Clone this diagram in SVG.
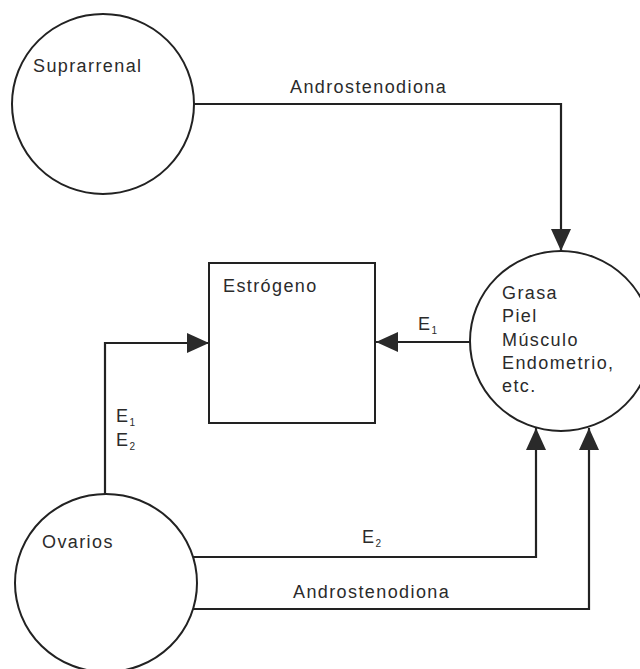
<svg xmlns="http://www.w3.org/2000/svg" width="640" height="669" viewBox="0 0 640 669">
  <style>
    .shape { fill: #fff; stroke: #222; stroke-width: 2; }
    .wire { fill: none; stroke: #222; stroke-width: 2.2; }
    .lbl { font-family: "Liberation Sans", Arial, sans-serif; font-size: 18px; letter-spacing: 1.4px; fill: #2b2b2b; }
    .sub { font-size: 10px; letter-spacing: 0; }
  </style>
  <defs>
    <marker id="arrow" viewBox="0 0 22 20" refX="22" refY="10" markerWidth="22" markerHeight="20" markerUnits="userSpaceOnUse" orient="auto">
      <path d="M0,0 L22,10 L0,20 Z" fill="#2a2a2a"/>
    </marker>
  </defs>
  <rect width="640" height="669" fill="#fff"/>

  <g id="suprarrenal">
    <ellipse class="shape" cx="103" cy="104" rx="91" ry="90"/>
    <text class="lbl" x="33" y="72">Suprarrenal</text>
  </g>

  <g id="estrogeno">
    <rect class="shape" x="209" y="263" width="166" height="160"/>
    <text class="lbl" x="223" y="292">Estrógeno</text>
  </g>

  <g id="tejidos">
    <ellipse class="shape" cx="561" cy="341" rx="91" ry="90"/>
    <text class="lbl" x="502" y="299">Grasa</text>
    <text class="lbl" x="502" y="322">Piel</text>
    <text class="lbl" x="502" y="346">Músculo</text>
    <text class="lbl" x="502" y="369">Endometrio,</text>
    <text class="lbl" x="502" y="392">etc.</text>
  </g>

  <g id="ovarios">
    <ellipse class="shape" cx="106" cy="583" rx="91" ry="89"/>
    <text class="lbl" x="42" y="548">Ovarios</text>
  </g>

  <g id="connectors">
    <path class="wire" d="M194,104 H561 V251" marker-end="url(#arrow)"/>
    <path class="wire" d="M470,342 H376" marker-end="url(#arrow)"/>
    <path class="wire" d="M105,494 V343 H209" marker-end="url(#arrow)"/>
    <path class="wire" d="M193,557 H536 V428" marker-end="url(#arrow)"/>
    <path class="wire" d="M193,609 H589 V428" marker-end="url(#arrow)"/>

    <text class="lbl" x="290" y="93">Androstenodiona</text>
    <text class="lbl" x="418" y="330">E<tspan class="sub" dy="4">1</tspan></text>
    <text class="lbl" x="116" y="422">E<tspan class="sub" dy="4">1</tspan></text>
    <text class="lbl" x="116" y="446">E<tspan class="sub" dy="4">2</tspan></text>
    <text class="lbl" x="362" y="543">E<tspan class="sub" dy="4">2</tspan></text>
    <text class="lbl" x="293" y="598">Androstenodiona</text>
  </g>
</svg>
